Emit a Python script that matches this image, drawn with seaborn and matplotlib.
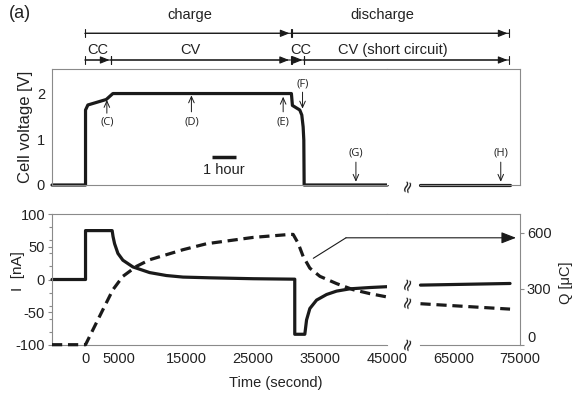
import matplotlib
matplotlib.use("Agg")
import matplotlib.pyplot as plt
from matplotlib.patches import FancyArrowPatch
from matplotlib.lines import Line2D
from matplotlib.ticker import FixedLocator
import seaborn as sns

# ---------------- data ----------------
# Cell voltage [V] versus time [s]
v_time = [-5000, 0, 0, 350, 3090, 4080, 30700, 30850, 31950, 32250, 32450, 32550, 32600, 45000]
v_volt = [0, 0, 1.64, 1.75, 1.87, 2.0, 2.0, 1.74, 1.64, 1.53, 1.27, 0.98, 0, 0]
v_time_late = [60000, 73500]
v_volt_late = [0, 0]

# Current I [nA] versus time [s]
i_time = [-5000, 0, 0, 3970, 4100, 4330, 4830, 5570, 7060, 9560, 12050, 14540, 18500,
          25000, 31200, 31200, 32700, 32960, 33450, 34450, 35950, 37440, 39430, 42420, 45000]
i_val = [0, 0, 75, 75, 66, 55, 40, 29.6, 19.3, 10.6, 6.1, 3.7, 2.6,
         1.2, 0.5, -84, -84, -62, -44.5, -31.6, -23, -17.8, -14.3, -12.3, -11]
i_time_late = [60000, 67000, 73500]
i_val_late = [-8.6, -7.3, -6.1]

# Charge Q [uC] versus time [s]
q_time = [-5000, 0, 1100, 2590, 4080, 5570, 7570, 9560, 12050, 14540, 18040, 25000,
          30460, 30960, 31700, 32450, 33450, 34950, 37440, 39930, 42420, 45000]
q_val = [0, 0, 80, 188, 295, 367, 420, 456, 483, 510, 542, 576,
         592, 592, 545, 474, 411, 367, 328, 295, 274, 256]
q_time_late = [60000, 73500]
q_val_late = [220, 191]

x_ticks_left = [0, 5000, 15000, 25000, 35000, 45000]
x_ticks_right = [65000, 75000]
v_ticks = [0, 1, 2]
i_ticks = [-100, -50, 0, 50, 100]
i_minor = [-100, -80, -60, -40, -20, 0, 20, 40, 60, 80, 100]
q_ticks = [0, 300, 600]

# point markers on the voltage curve: label, time, label V, arrow tail V, arrow tip V
markers = [("(C)", 3180, 1.37, 1.57, 1.86),
           ("(D)", 15790, 1.37, 1.60, 1.96),
           ("(E)", 29470, 1.37, 1.60, 1.93),
           ("(F)", 32360, 2.20, 2.03, 1.67),
           ("(G)", 40320, 0.69, 0.50, 0.07),
           ("(H)", 72100, 0.69, 0.50, 0.07)]
scale_bar_t = [18800, 22400]   # 1 hour
scale_bar_v = [0.61, 0.61]

# ---------------- style ----------------
sns.set_style("white")
plt.rcParams["font.family"] = ["Liberation Sans", "DejaVu Sans"]
plt.rcParams["axes.unicode_minus"] = False
GRAY = "#8a8a8a"
INK = "#1a1a1a"
TXT = "#222222"
FS = 10.5
LW = 2.3

W, H = 585, 396
fig = plt.figure(figsize=(W / 100, H / 100), dpi=100)


def rect(l, t, r, b):
    return [l / W, 1 - b / H, (r - l) / W, (b - t) / H]


def P(x, y):
    return (x / W, 1 - y / H)


XB = 387.3
ax_vl = fig.add_axes(rect(52, 69.3, XB, 185))
ax_vr = fig.add_axes(rect(XB, 69.3, 520, 185))
ax_il = fig.add_axes(rect(52, 214.3, XB, 344.7))
ax_ir = fig.add_axes(rect(XB, 214.3, 520, 344.7))
ax_ql = ax_il.twinx()
ax_qr = ax_ir.twinx()

line_kw = dict(color=INK, lw=LW, sort=False, estimator=None, clip_on=False)
sns.lineplot(x=v_time, y=v_volt, ax=ax_vl, **line_kw)
sns.lineplot(x=v_time_late, y=v_volt_late, ax=ax_vr, **line_kw)
sns.lineplot(x=i_time, y=i_val, ax=ax_il, **line_kw)
sns.lineplot(x=i_time_late, y=i_val_late, ax=ax_ir, **line_kw)
sns.lineplot(x=q_time, y=q_val, ax=ax_ql, linestyle=(0, (3.2, 1.8)), **line_kw)
sns.lineplot(x=q_time_late, y=q_val_late, ax=ax_qr, linestyle=(0, (3.2, 1.8)), **line_kw)

for ax in (ax_vl, ax_il, ax_ql):
    ax.set_xlim(-5000, 45000)
for ax in (ax_vr, ax_ir, ax_qr):
    ax.set_xlim(55000, 75000)
ax_vl.set_ylim(0, 2.53)
ax_vr.set_ylim(0, 2.53)
ax_il.set_ylim(-100, 100)
ax_ir.set_ylim(-100, 100)
ax_ql.set_ylim(0, 700)
ax_qr.set_ylim(0, 700)


def base_style(ax):
    for s in ax.spines.values():
        s.set_color(GRAY)
        s.set_linewidth(0.8)
    ax.tick_params(colors=GRAY, labelcolor=TXT, length=3, width=0.8,
                   direction="out", labelsize=FS, pad=2)
    ax.set_xlabel("")
    ax.set_ylabel("")


for ax in (ax_vl, ax_vr, ax_il, ax_ir, ax_ql, ax_qr):
    base_style(ax)

# left halves
for ax in (ax_vl, ax_il):
    ax.spines["right"].set_visible(False)
    ax.xaxis.set_major_locator(FixedLocator(x_ticks_left))
ax_vl.tick_params(axis="x", labelbottom=False)
ax_vl.yaxis.set_major_locator(FixedLocator(v_ticks))
ax_il.yaxis.set_major_locator(FixedLocator(i_ticks))
ax_il.yaxis.set_minor_locator(FixedLocator(i_minor))
ax_il.tick_params(axis="y", which="minor", length=2.5, width=0.8, colors=GRAY)
ax_il.set_xticklabels([str(t) for t in x_ticks_left])

# right halves
for ax in (ax_vr, ax_ir):
    ax.spines["left"].set_visible(False)
    ax.spines["bottom"].set_bounds(60000, 75000)
    ax.xaxis.set_major_locator(FixedLocator(x_ticks_right))
    ax.set_yticks([])
ax_ir.spines["right"].set_visible(False)
ax_vr.tick_params(axis="x", labelbottom=False)
ax_ir.set_xticklabels([str(t) for t in x_ticks_right])

# charge axes (twins)
for s in ax_ql.spines.values():
    s.set_visible(False)
ax_ql.set_yticks([])
for name in ("top", "bottom", "left"):
    ax_qr.spines[name].set_visible(False)
ax_qr.yaxis.set_major_locator(FixedLocator(q_ticks))
ax_qr.yaxis.tick_right()
ax_qr.set_yticklabels([str(q) for q in q_ticks])
ax_qr.get_yticklabels()[0].set_va("bottom")

# axis labels
ax_vl.set_ylabel("Cell voltage [V]", fontsize=12, color=TXT, va="center")
ax_vl.yaxis.set_label_coords(-0.08, 0.5)
ax_il.set_ylabel("I  [nA]", fontsize=11, color=TXT, va="center")
ax_il.yaxis.set_label_coords(-0.101, 0.565)
ax_qr.set_ylabel("Q [μC]", fontsize=FS, color=TXT, va="center", rotation=90)
ax_qr.yaxis.set_label_coords(1.347, 0.473)
ax_il.set_xlabel("Time (second)", fontsize=FS, color=TXT, va="center")
ax_il.xaxis.set_label_coords(0.668, -0.294)

# scale bar
ax_vl.plot(scale_bar_t, scale_bar_v, color=INK, lw=2.5, solid_capstyle="butt")
ax_vl.text(sum(scale_bar_t) / 2, 0.32, "1 hour", ha="center", va="center",
           fontsize=FS, color=TXT)

# point markers
for lab, t, ylab, ytail, ytip in markers:
    ax = ax_vr if t > 50000 else ax_vl
    ax.annotate("", xy=(t, ytip), xytext=(t, ytail),
                arrowprops=dict(arrowstyle="->,head_length=0.45,head_width=0.2",
                                color=INK, lw=0.7, shrinkA=0, shrinkB=0))
    ax.text(t, ylab, lab, ha="center", va="center", fontsize=8,
            family=["Open Sans", "DejaVu Sans"], color=TXT)

# phase arrows above the chart
def span(x0, x1, y):
    fig.add_artist(FancyArrowPatch(P(x0, y), P(x1, y), transform=fig.transFigure,
                                   arrowstyle="|-|,widthA=0.3,widthB=0.3",
                                   mutation_scale=10, lw=0.8, color=INK,
                                   shrinkA=0, shrinkB=0))
    fig.add_artist(FancyArrowPatch(P(x0, y), P(x1 - 1.5, y), transform=fig.transFigure,
                                   arrowstyle="-|>,head_length=0.55,head_width=0.22",
                                   mutation_scale=10, lw=0.8, color=INK,
                                   shrinkA=0, shrinkB=0))


span(85, 291, 33.3)
span(292, 509, 33.3)
span(85, 111, 60)
span(111, 290.5, 60)
span(291.5, 304, 60)
span(304, 509, 60)
fig.text(*P(190, 15), "charge", ha="center", va="center", fontsize=FS, color=TXT)
fig.text(*P(382, 15), "discharge", ha="center", va="center", fontsize=FS, color=TXT)
fig.text(*P(98, 50), "CC", ha="center", va="center", fontsize=FS, color=TXT)
fig.text(*P(190, 50), "CV", ha="center", va="center", fontsize=FS, color=TXT)
fig.text(*P(301, 50), "CC", ha="center", va="center", fontsize=FS, color=TXT)
fig.text(*P(393, 50), "CV (short circuit)", ha="center", va="center", fontsize=FS, color=TXT)
fig.text(*P(20, 13), "(a)", ha="center", va="center", fontsize=13, color=TXT)

# arrow pointing the dashed curve to the right axis
fig.add_artist(Line2D([P(313.3, 258.3)[0], P(346, 237.8)[0]],
                      [P(313.3, 258.3)[1], P(346, 237.8)[1]],
                      transform=fig.transFigure, color=INK, lw=0.8))
fig.add_artist(FancyArrowPatch(P(346, 237.8), P(516, 237.8), transform=fig.transFigure,
                               arrowstyle="-|>,head_length=0.9,head_width=0.35",
                               mutation_scale=10, lw=0.8, color=INK,
                               shrinkA=0, shrinkB=0))

# axis break marks
for (bx, by) in [(407, 186), (407, 283.5), (407, 301.5), (407, 344)]:
    fig.text(*P(bx, by), "≈", ha="center", va="center", fontsize=12,
             rotation=72, color=INK, family=["DejaVu Sans"])

fig.savefig("out.png", dpi=100)
